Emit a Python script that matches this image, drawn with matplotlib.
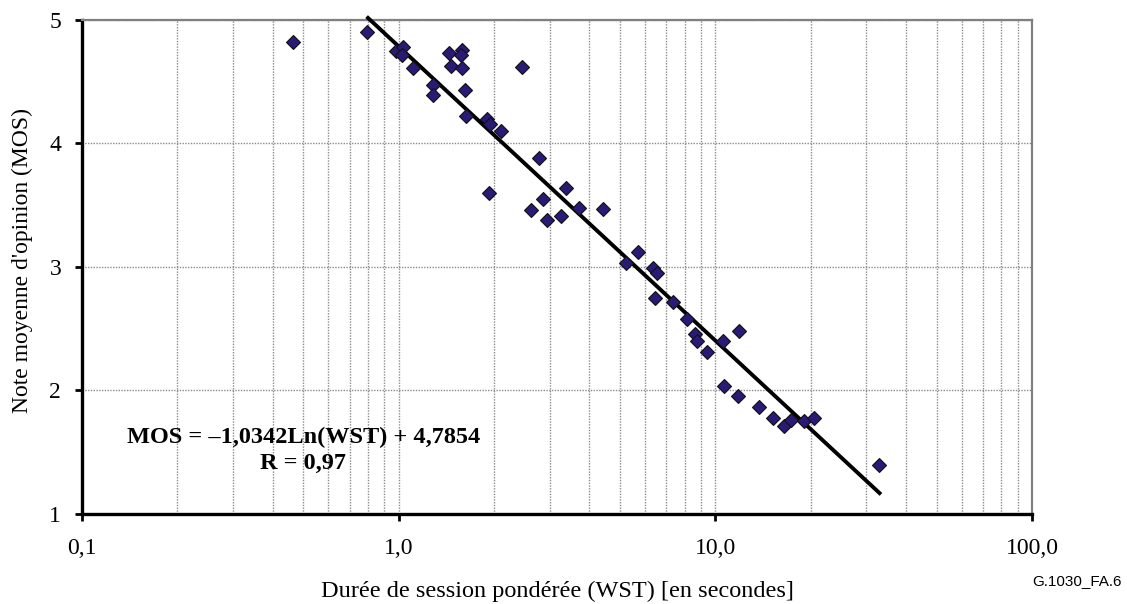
import numpy as np
import matplotlib
matplotlib.use("Agg")
import matplotlib.pyplot as plt
from matplotlib.ticker import FixedLocator, NullFormatter

# Data
wst = [0.462, 0.792, 0.978, 1.032, 1.027, 1.11, 1.28, 1.28, 1.44, 1.59, 1.57, 1.46,
       1.58, 1.62, 1.63, 1.90, 1.94, 2.10, 2.46, 2.77, 1.93, 3.38, 2.86, 2.61, 2.93,
       3.25, 3.72, 4.41, 5.71, 5.24, 6.34, 6.56, 6.45, 7.34, 8.14, 8.60, 8.73, 9.39,
       10.6, 11.9, 10.67, 11.8, 13.7, 15.2, 16.5, 17.3, 19.1, 20.5, 32.8]
mos = [4.82, 4.90, 4.75, 4.78, 4.72, 4.61, 4.47, 4.39, 4.73, 4.76, 4.72, 4.63,
       4.61, 4.43, 4.22, 4.20, 4.16, 4.10, 4.62, 3.88, 3.60, 3.64, 3.55, 3.46, 3.38,
       3.41, 3.48, 3.47, 3.12, 3.03, 2.99, 2.95, 2.75, 2.72, 2.58, 2.46, 2.40, 2.31,
       2.40, 2.48, 2.04, 1.955, 1.87, 1.78, 1.715, 1.76, 1.75, 1.78, 1.40]
fit_a = -1.0342
fit_b = 4.7854
fit_range = [0.80, 33.0]
x_ticks = [0.1, 1.0, 10.0, 100.0]
x_ticklabels = ["0,1", "1,0", "10,0", "100,0"]
y_ticks = [1, 2, 3, 4, 5]
y_ticklabels = ["1", "2", "3", "4", "5"]

plt.rcParams['font.family'] = ['Liberation Serif', 'DejaVu Serif']

fig = plt.figure(figsize=(11.27, 6.04), dpi=100)
ax = fig.add_axes([0.0728, 0.149, 0.9157 - 0.0728, 0.967 - 0.149])
ax.set_xscale('log')
ax.set_xlim(0.1, 100)
ax.set_ylim(1, 5)

# grid
minor = [m * d for d in [0.1, 1, 10] for m in range(2, 10)]
ax.xaxis.set_minor_locator(FixedLocator(minor))
ax.xaxis.set_minor_formatter(NullFormatter())
ax.set_xticks(x_ticks)
ax.set_xticklabels(x_ticklabels)
ax.set_yticks(y_ticks)
ax.set_yticklabels(y_ticklabels)
ax.grid(True, which='both', axis='x', linestyle=(0, (1, 1)), color='#8c8c8c', linewidth=1.0)
ax.grid(True, which='major', axis='y', linestyle=(0, (1, 1)), color='#8c8c8c', linewidth=1.0)
ax.set_axisbelow(True)

ax.tick_params(which='minor', length=0)
ax.tick_params(which='major', direction='out', length=5, width=2, labelsize=17, color='black')
ax.tick_params(axis='x', which='major', pad=12)
ax.tick_params(axis='y', which='major', pad=10)

for s in ['left', 'bottom']:
    ax.spines[s].set_linewidth(2.4)
    ax.spines[s].set_color('black')
for s in ['top', 'right']:
    ax.spines[s].set_linewidth(1.6)
    ax.spines[s].set_color('#808080')

# trend line
xf = np.logspace(np.log10(fit_range[0]), np.log10(fit_range[1]), 200)
yf = fit_a * np.log(xf) + fit_b
ax.plot(xf, yf, color='black', linewidth=2.8, clip_on=False, zorder=3)

# scatter
ax.plot(wst, mos, linestyle='none', marker='D', markersize=6.8,
        markerfacecolor='#2b1a75', markeredgecolor='#111111', markeredgewidth=0.8,
        zorder=4, clip_on=False)

ax.set_xlabel("Durée de session pondérée (WST) [en secondes]", fontsize=17.5, labelpad=16)
ax.set_ylabel("Note moyenne d'opinion (MOS)", fontsize=17)
ax.yaxis.set_label_coords(-0.052, 0.513)

ax.text(0.233, 0.128, "MOS = –1,0342Ln(WST) + 4,7854\nR = 0,97",
        transform=ax.transAxes, ha='center', va='center', fontsize=17.5,
        fontweight='bold', linespacing=1.3)

fig.text(0.995, 0.038, "G.1030_FA.6", ha='right', va='center', fontsize=11,
         family=['Liberation Sans', 'DejaVu Sans'])

fig.savefig("out.png", dpi=100)
